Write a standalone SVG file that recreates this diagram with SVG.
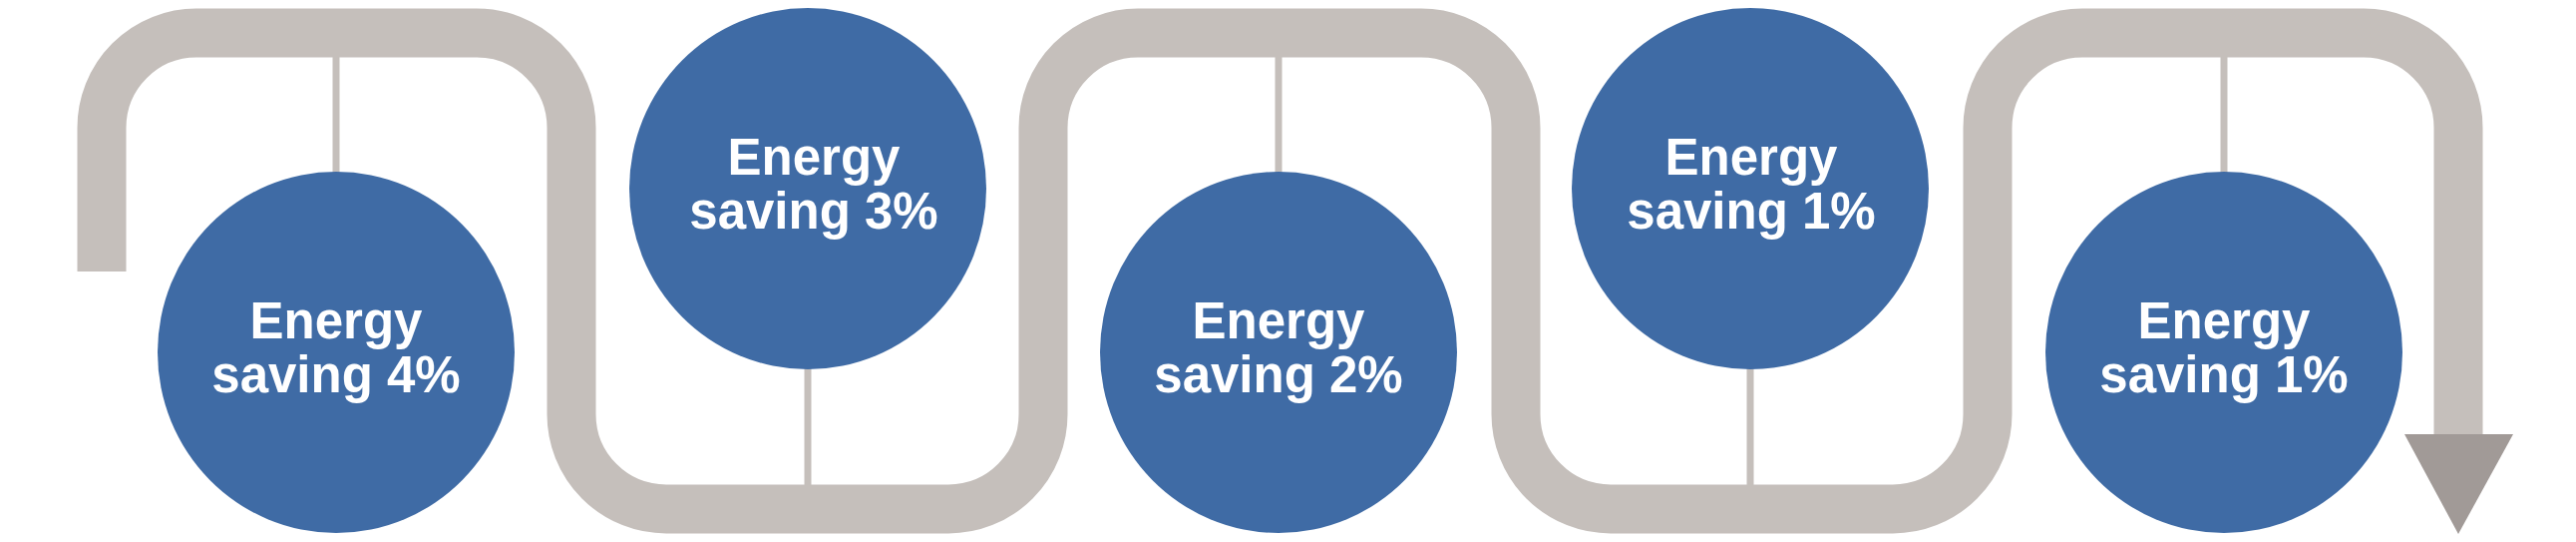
<svg xmlns="http://www.w3.org/2000/svg" width="2583" height="543" viewBox="0 0 2583 543">
<style>
.pipe{fill:none;stroke:#C5BFBB;stroke-width:49;stroke-linejoin:round;stroke-linecap:butt}
.stem{stroke:#C5BFBB;stroke-width:7}
.head{fill:#A19A97}
.node{fill:#3F6BA5}
.lbl{font-family:"Liberation Sans",Arial,Helvetica,sans-serif;font-weight:bold;font-size:51px;fill:#FFFFFF;text-anchor:middle}
</style>
<rect width="2583" height="543" fill="#FFFFFF"/>
<g id="connectors">
<path class="pipe" d="M102,272 V128 A95,95 0 0 1 197,33 H478 A95,95 0 0 1 573,128 V415 A95,95 0 0 0 668,510 H951 A95,95 0 0 0 1046,415 V128 A95,95 0 0 1 1141,33 H1425 A95,95 0 0 1 1520,128 V415 A95,95 0 0 0 1615,510 H1898 A95,95 0 0 0 1993,415 V128 A95,95 0 0 1 2088,33 H2370 A95,95 0 0 1 2465,128 V437"/>
<polygon class="head" points="2411,435 2520,435 2465,535"/>
<line class="stem" x1="337" y1="57" x2="337" y2="175"/>
<line class="stem" x1="810" y1="365" x2="810" y2="487"/>
<line class="stem" x1="1282" y1="57" x2="1282" y2="175"/>
<line class="stem" x1="1755" y1="365" x2="1755" y2="487"/>
<line class="stem" x1="2230" y1="57" x2="2230" y2="175"/>
</g>
<g id="node1">
<ellipse class="node" cx="337" cy="353" rx="179" ry="181"/>
<text class="lbl" x="337" y="339">Energy</text>
<text class="lbl" x="337" y="393">saving 4%</text>
</g>
<g id="node2">
<ellipse class="node" cx="810" cy="189" rx="179" ry="181"/>
<text class="lbl" x="816" y="175">Energy</text>
<text class="lbl" x="816" y="229">saving 3%</text>
</g>
<g id="node3">
<ellipse class="node" cx="1282" cy="353" rx="179" ry="181"/>
<text class="lbl" x="1282" y="339">Energy</text>
<text class="lbl" x="1282" y="393">saving 2%</text>
</g>
<g id="node4">
<ellipse class="node" cx="1755" cy="189" rx="179" ry="181"/>
<text class="lbl" x="1756" y="175">Energy</text>
<text class="lbl" x="1756" y="229">saving 1%</text>
</g>
<g id="node5">
<ellipse class="node" cx="2230" cy="353" rx="179" ry="181"/>
<text class="lbl" x="2230" y="339">Energy</text>
<text class="lbl" x="2230" y="393">saving 1%</text>
</g>
</svg>
